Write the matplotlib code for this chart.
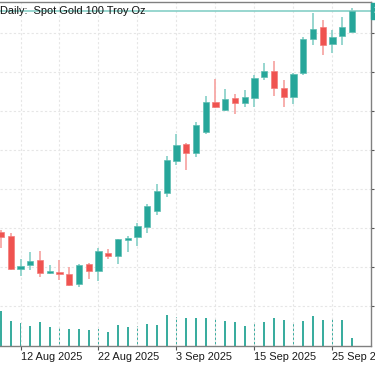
import numpy as np
import matplotlib.pyplot as plt
from datetime import datetime

plt.rcParams["font.family"] = ["Liberation Sans", "DejaVu Sans"]

# daily bars, Aug 8 - Sep 29 2025
days = ["2025-08-08", "2025-08-11", "2025-08-12", "2025-08-13", "2025-08-14",
        "2025-08-15", "2025-08-18", "2025-08-19", "2025-08-20", "2025-08-21",
        "2025-08-22", "2025-08-25", "2025-08-26", "2025-08-27", "2025-08-28",
        "2025-08-29", "2025-09-01", "2025-09-02", "2025-09-03", "2025-09-04",
        "2025-09-05", "2025-09-08", "2025-09-09", "2025-09-10", "2025-09-11",
        "2025-09-12", "2025-09-15", "2025-09-16", "2025-09-17", "2025-09-18",
        "2025-09-19", "2025-09-22", "2025-09-23", "2025-09-24", "2025-09-25",
        "2025-09-26", "2025-09-29"]
opens = [3417.3, 3409.6, 3346.7, 3353.8, 3363.5, 3339.4, 3340.4, 3336.5, 3317.3,
         3355.8, 3342.3, 3376.9, 3371.2, 3401.9, 3407.7, 3426.9, 3457.7, 3492.3,
         3553.8, 3586.5, 3569.2, 3609.6, 3667.3, 3651.9, 3675.0, 3665.4, 3675.0,
         3715.4, 3726.9, 3694.2, 3676.9, 3723.1, 3788.5, 3811.5, 3778.8, 3794.2,
         3801.9]
highs = [3421.2, 3415.4, 3365.4, 3378.8, 3380.8, 3353.8, 3363.5, 3350.0, 3355.8,
         3357.7, 3386.5, 3384.6, 3403.8, 3409.6, 3434.6, 3471.2, 3509.6, 3563.5,
         3605.8, 3588.5, 3628.8, 3678.8, 3711.5, 3692.3, 3682.7, 3690.4, 3719.2,
         3742.3, 3746.2, 3709.6, 3723.1, 3792.3, 3838.5, 3825.0, 3805.8, 3830.8,
         3848.1]
lows = [3386.5, 3344.2, 3332.7, 3345.2, 3330.8, 3335.6, 3325.0, 3314.4, 3311.5,
        3327.9, 3323.1, 3365.4, 3355.8, 3378.8, 3390.4, 3415.4, 3450.0, 3484.6,
        3546.2, 3536.5, 3561.5, 3605.8, 3655.8, 3650.0, 3644.2, 3657.7, 3657.7,
        3709.6, 3678.8, 3657.7, 3663.5, 3719.2, 3776.9, 3757.7, 3761.5, 3776.9,
        3801.9]
closes = [3407.7, 3346.2, 3351.9, 3361.5, 3338.5, 3342.3, 3335.6, 3316.3, 3353.8,
          3342.3, 3380.8, 3371.2, 3402.9, 3405.8, 3428.8, 3467.3, 3496.2, 3555.8,
          3584.6, 3569.2, 3623.1, 3667.3, 3657.7, 3673.1, 3665.4, 3676.9, 3713.5,
          3726.9, 3694.2, 3676.9, 3721.2, 3788.5, 3807.7, 3776.9, 3792.3, 3811.5,
          3842.3]
volumes = [70, 51, 46, 40, 48, 38, 36, 34, 35, 32, 35, 28, 43, 39, 41, 44, 43, 63,
           59, 56, 57, 56, 57, 51, 48, 41, 45, 49, 57, 52, 46, 51, 61, 52, 57, 52, 17]
price_ticks = [3275, 3350, 3425, 3500, 3575, 3650, 3725, 3800]
label_days = ["2025-08-12", "2025-08-22", "2025-09-03", "2025-09-15", "2025-09-25"]
grid_days = ["2025-08-18", "2025-08-28", "2025-09-09", "2025-09-19"]
title = "Daily:  Spot Gold 100 Troy Oz"

UP, DOWN = "#26a69a", "#ef5350"
UP_WICK, DOWN_WICK = "#8fd3cb", "#f7a8a6"

o, h, l, c = map(np.asarray, (opens, highs, lows, closes))
x = np.arange(len(days))
up = c >= o

W, H = 375, 366
fig = plt.figure(figsize=(W / 100, H / 100), dpi=100)
ax = fig.add_axes([0, 20 / H, 371 / W, 344 / H])
vax = ax.twinx()
ax.set_zorder(vax.get_zorder() + 1)
ax.patch.set_visible(False)

# volume
vax.bar(x, volumes, width=0.2, color="#3aad9f", linewidth=0)
vax.set_ylim(0, 688)
vax.set_yticks([])
for s in vax.spines.values():
    s.set_visible(False)

# candles
ax.vlines(x[up], l[up], h[up], color=UP_WICK, lw=1.3, zorder=2)
ax.vlines(x[~up], l[~up], h[~up], color=DOWN_WICK, lw=1.3, zorder=2)
ax.bar(x[up], (c - o)[up], bottom=o[up], width=0.66, color=UP,
       edgecolor="#5cbdb2", lw=0.5, zorder=3)
ax.bar(x[~up], (o - c)[~up], bottom=c[~up], width=0.66, color=DOWN,
       edgecolor="#f47c7a", lw=0.5, zorder=3)

# last price line + tag
ax.axhline(closes[-1], color="#86cfc7", lw=1.2, zorder=1)
ax.annotate(f"{closes[-1]:,.2f}", xy=(1, closes[-1]),
            xycoords=("axes fraction", "data"), xytext=(2, 0),
            textcoords="offset points", ha="left", va="center", fontsize=7.9,
            color="white", annotation_clip=False,
            bbox=dict(boxstyle="square,pad=0.25", fc=UP, ec=UP))

ax.set_xlim(-0.1026, 37.949)
ax.set_ylim(3198.1, 3859.6)

tick_pos = [days.index(d) for d in label_days]
ax.set_xticks(tick_pos)
ax.set_xticklabels([datetime.strptime(d, "%Y-%m-%d").strftime("%-d %b %Y")
                    for d in label_days], ha="left")
ax.set_xticks([days.index(d) for d in grid_days], minor=True)
ax.tick_params(axis="x", which="major", length=3, width=0.8, color="#555555",
               pad=1.5, labelsize=7.9, labelcolor="#1a1a1a")
ax.tick_params(axis="x", which="minor", length=0)

ax.yaxis.tick_right()
ax.set_yticks(price_ticks)
ax.set_yticklabels([f"{v:,.2f}" for v in price_ticks])
ax.tick_params(axis="y", length=2, width=0.8, color="#555555", pad=1,
               labelsize=7.9, labelcolor="#1a1a1a")

ax.grid(True, which="both", color="#e6e6e6", lw=0.8, ls=(0, (2, 2)))
ax.set_axisbelow(True)

ax.spines["left"].set_visible(False)
for side in ("top", "right", "bottom"):
    ax.spines[side].set_color("#808080")
    ax.spines[side].set_linewidth(1)

fig.text(0, 1 - 10.5 / H, title, ha="left", va="center", fontsize=7.9,
         color="#111111")

fig.savefig("out.png", dpi=100)
